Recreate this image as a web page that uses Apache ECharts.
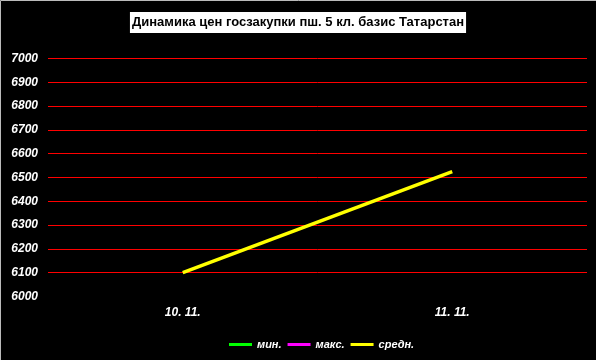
<!DOCTYPE html>
<html>
<head>
<meta charset="utf-8">
<script src="https://cdn.jsdelivr.net/npm/echarts@6/dist/echarts.min.js"></script>
<style>
html,body{margin:0;padding:0;background:#000;}
#c{width:596px;height:360px;}
</style>
</head>
<body>
<div id="c"></div>
<script>
var titleText = 'Динамика цен госзакупки пш. 5 кл. базис Татарстан';
var categories = ['10. 11.', '11. 11.'];
var seriesNames = ['мин.', 'макс.', 'средн.'];
var minValues = [null, null];
var maxValues = [null, null];
var avgValues = [6100, 6525];
var yMin = 6000, yMax = 7000, yStep = 100;

var chart = echarts.init(document.getElementById('c'), null, {renderer: 'canvas'});
var gridLines = [];
for (var v = yMin + yStep; v <= yMax; v += yStep) gridLines.push({yAxis: v});

var fontFam = '"Liberation Sans", Arial, sans-serif';
chart.setOption({
  backgroundColor: '#000',
  animation: false,
  title: {
    text: titleText,
    left: 'center',
    top: 12,
    padding: [4, 2, 4, 2],
    backgroundColor: '#fff',
    textStyle: {color: '#000', fontSize: 13, fontWeight: 'bold', fontFamily: fontFam}
  },
  legend: {
    data: seriesNames,
    left: 224,
    top: 334,
    itemWidth: 23,
    itemHeight: 3,
    itemGap: 6,
    icon: 'rect',
    textStyle: {color: '#fff', fontSize: 11, fontStyle: 'italic', fontWeight: 'bold', fontFamily: fontFam}
  },
  grid: {left: 48, right: 9, top: 58.5, bottom: 63.5},
  xAxis: {
    type: 'category',
    data: categories,
    boundaryGap: true,
    axisLine: {show: false},
    axisTick: {show: false},
    axisLabel: {color: '#fff', fontSize: 12, fontStyle: 'italic', fontWeight: 'bold', fontFamily: fontFam, margin: 10}
  },
  yAxis: {
    type: 'value',
    min: yMin, max: yMax, interval: yStep,
    axisLine: {show: false},
    axisTick: {show: false},
    axisLabel: {color: '#fff', fontSize: 12, fontStyle: 'italic', fontWeight: 'bold', fontFamily: fontFam, margin: 10,
      formatter: function (val) { return String(val); }},
    splitLine: {show: false}
  },
  series: [
    {name: seriesNames[0], type: 'line', data: minValues, color: '#00ff00', symbol: 'none', lineStyle: {width: 3}},
    {name: seriesNames[1], type: 'line', data: maxValues, color: '#ff00ff', symbol: 'none', lineStyle: {width: 3}},
    {name: seriesNames[2], type: 'line', data: avgValues, color: '#ffff00', symbol: 'none', lineStyle: {width: 3.5}, z: 5,
      markLine: {
        silent: true, symbol: 'none', animation: false,
        label: {show: false},
        lineStyle: {color: '#ff0000', width: 1, type: 'solid'},
        data: gridLines,
        z: 1
      }
    }
  ],
  graphic: [{
    type: 'rect', silent: true,
    shape: {x: 0.5, y: 0.5, width: 600, height: 400},
    style: {fill: null, stroke: '#bbb', lineWidth: 1}
  }]
});
</script>
</body>
</html>
